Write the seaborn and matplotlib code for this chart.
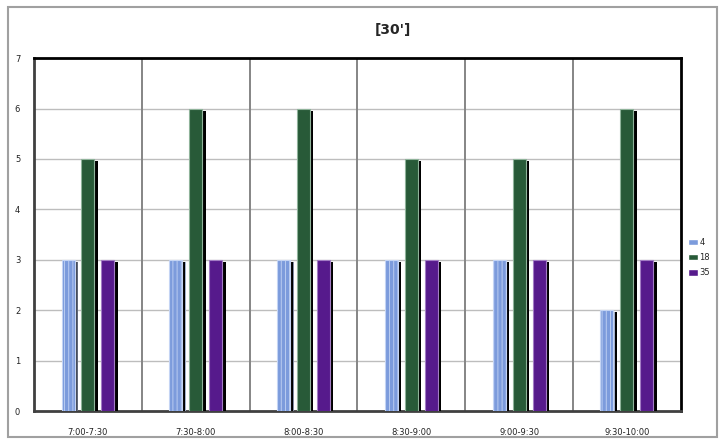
import pandas as pd
import matplotlib
matplotlib.use("Agg")
import matplotlib.pyplot as plt
import matplotlib.patheffects as pe
from matplotlib.patches import Rectangle
import seaborn as sns

# --- data ---
slots = ["7:00-7:30", "7:30-8:00", "8:00-8:30", "8:30-9:00", "9:00-9:30", "9:30-10:00"]
series_names = ["4", "18", "35"]
vals_4 = [3, 3, 3, 3, 3, 2]
vals_18 = [5, 6, 6, 5, 5, 6]
vals_35 = [3, 3, 3, 3, 3, 3]
colors = ["#7c9bdc", "#285a38", "#561a8c"]
edge_colors = ["#c4d4f4", "#8fb39a", "#a27cc4"]
hatches = ["||||", "", ""]

df = pd.DataFrame({
    "slot": slots * 3,
    "series": [s for s in series_names for _ in slots],
    "value": vals_4 + vals_18 + vals_35,
})

sns.set_style("white")
plt.rcParams["font.family"] = ["DejaVu Sans"]
plt.rcParams["hatch.linewidth"] = 0.6

fig = plt.figure(figsize=(7.25, 4.47), dpi=100)
ax = fig.add_axes([0.047, 0.0805, 0.892, 0.7895])

sns.barplot(data=df, x="slot", y="value", hue="series", order=slots,
            hue_order=series_names, palette=colors, width=0.555, gap=0.35,
            saturation=1, ax=ax, zorder=3)

# light edges + black drop shadow on every bar
shadow = [pe.SimplePatchShadow(offset=(2.5, -1.5), shadow_rgbFace="black", alpha=1), pe.Normal()]
for i, cont in enumerate(ax.containers):
    for bar in cont:
        bar.set_edgecolor(edge_colors[i])
        bar.set_linewidth(0.8)
        bar.set_hatch(hatches[i])
        bar.set_path_effects(shadow)

ax.set_ylim(0, 7)
ax.set_xlim(-0.5, len(slots) - 0.5)
ax.set_yticks(range(0, 8))
ax.set_xlabel("")
ax.set_ylabel("")
ax.tick_params(axis="both", length=0, labelsize=6, colors="#222222")
ax.tick_params(axis="x", pad=12)
ax.tick_params(axis="y", pad=10)

# gridlines
for y in range(1, 7):
    ax.axhline(y, color="#bdbdbd", lw=1.0, zorder=1)
for x in range(1, len(slots)):
    ax.axvline(x - 0.5, color="#858585", lw=1.4, zorder=1)

ax.spines["top"].set_color("black")
ax.spines["top"].set_linewidth(2)
ax.spines["right"].set_color("black")
ax.spines["right"].set_linewidth(2)
ax.spines["left"].set_color("#404040")
ax.spines["left"].set_linewidth(2)
ax.spines["bottom"].set_color("#404040")
ax.spines["bottom"].set_linewidth(2)

handles, labels = ax.get_legend_handles_labels()
for h in handles:
    h.set_hatch("")
ax.legend(handles, labels, loc="center left", bbox_to_anchor=(1.0, 0.435),
          frameon=False, fontsize=6, handlelength=1.2, handleheight=0.8,
          handletextpad=0.15, labelspacing=0.75)

fig.text(0.542, 0.933, "[30']", ha="center", va="center", fontsize=10, fontweight="bold")

# outer chart border
fig.patches.append(Rectangle((8 / 725, 1 - 437 / 447), 709 / 725, 430 / 447,
                             transform=fig.transFigure, fill=False,
                             edgecolor="#a0a0a0", lw=1.5))

fig.savefig("out.png", dpi=100)
